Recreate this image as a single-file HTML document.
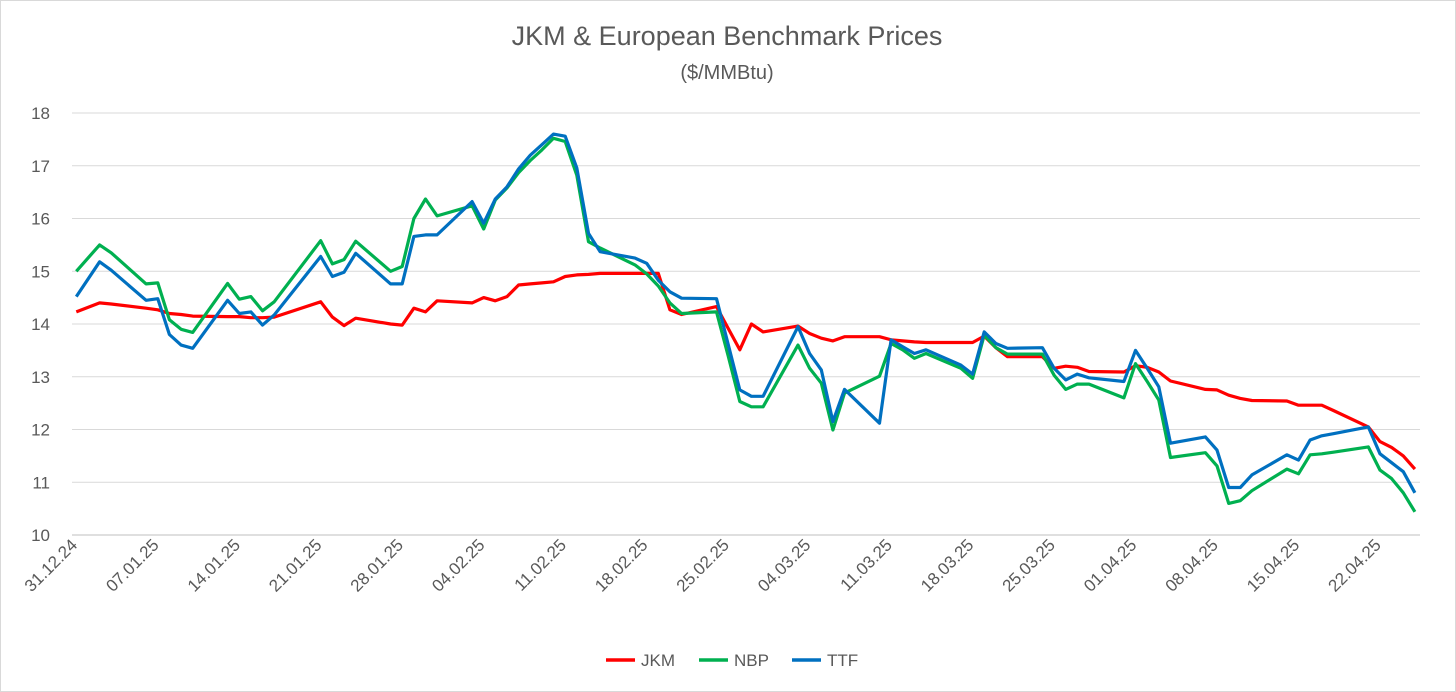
<!DOCTYPE html>
<html><head><meta charset="utf-8"><style>
html,body{margin:0;padding:0;background:#fff;}
svg{display:block;font-family:"Liberation Sans",sans-serif;}
</style></head><body>
<svg id="chart" width="1456" height="692">
<rect x="0.5" y="0.5" width="1455" height="691" fill="#fff" stroke="#d9d9d9"/>
<text x="727" y="45" text-anchor="middle" font-size="27" fill="#595959">JKM &amp; European Benchmark Prices</text>
<text x="727" y="79" text-anchor="middle" font-size="20" fill="#595959">($/MMBtu)</text>
<g id="grid"></g><g id="ylabels"></g><g id="xlabels"></g><g id="series"></g>
<g>
<line x1="606" y1="660" x2="635" y2="660" stroke="#ff0000" stroke-width="3.5"/>
<text x="641" y="666" font-size="17" fill="#595959">JKM</text>
<line x1="699" y1="660" x2="728" y2="660" stroke="#00b050" stroke-width="3.5"/>
<text x="734" y="666" font-size="17" fill="#595959">NBP</text>
<line x1="792" y1="660" x2="821" y2="660" stroke="#0070c0" stroke-width="3.5"/>
<text x="827" y="666" font-size="17" fill="#595959">TTF</text>
</g>
</svg>
<script>
const days=[0,2,3,6,7,8,9,10,13,14,15,16,17,21,22,23,24,27,28,29,30,31,34,35,36,37,38,39,40,41,42,43,44,45,48,49,50,51,52,55,56,57,58,59,62,63,64,65,66,69,70,71,72,73,76,77,78,79,80,83,84,85,86,87,90,91,92,93,94,97,98,99,100,101,104,105,106,107,108,111,112,113,114,115];
const jkm=[14.23,14.4,14.38,14.3,14.27,14.2,14.18,14.15,14.14,14.14,14.12,14.12,14.13,14.42,14.13,13.97,14.11,14.0,13.98,14.3,14.23,14.44,14.40,14.5,14.44,14.52,14.74,14.76,14.78,14.8,14.9,14.93,14.94,14.96,14.96,14.96,14.96,14.27,14.18,14.33,13.92,13.51,14.0,13.85,13.96,13.82,13.73,13.68,13.76,13.76,13.70,13.68,13.66,13.65,13.65,13.65,13.77,13.55,13.38,13.38,13.16,13.2,13.18,13.1,13.09,13.21,13.18,13.09,12.92,12.76,12.75,12.65,12.59,12.55,12.54,12.46,12.46,12.46,12.36,12.05,11.77,11.66,11.5,11.25];
const nbp=[15.0,15.5,15.35,14.76,14.78,14.08,13.9,13.84,14.77,14.47,14.52,14.25,14.42,15.58,15.14,15.22,15.57,15.0,15.09,16.0,16.37,16.05,16.24,15.8,16.35,16.58,16.87,17.1,17.3,17.52,17.46,16.82,15.56,15.44,15.12,14.95,14.72,14.4,14.2,14.23,13.4,12.53,12.43,12.43,13.6,13.16,12.88,11.99,12.69,13.01,13.63,13.51,13.35,13.44,13.16,12.97,13.79,13.55,13.43,13.43,13.03,12.76,12.86,12.86,12.6,13.25,12.91,12.56,11.47,11.56,11.31,10.6,10.65,10.84,11.25,11.16,11.52,11.54,11.57,11.67,11.23,11.07,10.8,10.44];
const ttf=[14.52,15.18,15.02,14.45,14.48,13.8,13.6,13.54,14.45,14.2,14.23,13.98,14.17,15.28,14.9,14.98,15.34,14.76,14.76,15.66,15.69,15.69,16.32,15.91,16.37,16.6,16.94,17.2,17.4,17.6,17.56,16.96,15.72,15.37,15.25,15.15,14.83,14.61,14.49,14.48,13.62,12.75,12.63,12.63,13.95,13.44,13.13,12.15,12.76,12.12,13.70,13.57,13.44,13.51,13.22,13.05,13.85,13.63,13.54,13.55,13.16,12.94,13.05,12.98,12.91,13.5,13.16,12.81,11.74,11.86,11.61,10.9,10.9,11.14,11.52,11.42,11.8,11.88,11.92,12.05,11.54,11.37,11.2,10.8];
const yTicks=[10,11,12,13,14,15,16,17,18];
const xTickDays=[0,7,14,21,28,35,42,49,56,63,70,77,84,91,98,105,112];
const xTickLabels=["31.12.24","07.01.25","14.01.25","21.01.25","28.01.25","04.02.25","11.02.25","18.02.25","25.02.25","04.03.25","11.03.25","18.03.25","25.03.25","01.04.25","08.04.25","15.04.25","22.04.25"];
const NS="http://www.w3.org/2000/svg";
function xs(d){return 76.3+11.64*d;}
function ys(v){return 535-(v-10)*52.75;}
const grid=document.getElementById('grid'),yl=document.getElementById('ylabels'),xl=document.getElementById('xlabels'),ser=document.getElementById('series');
yTicks.forEach(t=>{
  const l=document.createElementNS(NS,'line');
  l.setAttribute('x1',72);l.setAttribute('x2',1420);l.setAttribute('y1',ys(t));l.setAttribute('y2',ys(t));
  l.setAttribute('stroke',t===10?'#bfbfbf':'#d9d9d9');l.setAttribute('stroke-width',1);
  
  
  grid.appendChild(l);
  const tx=document.createElementNS(NS,'text');
  tx.setAttribute('x',50);tx.setAttribute('y',ys(t)+6);tx.setAttribute('text-anchor','end');
  tx.setAttribute('font-size',17);tx.setAttribute('fill','#595959');tx.textContent=t;
  
  
  yl.appendChild(tx);
});
xTickDays.forEach((d,i)=>{
  const x=xs(d)+2,y=546;
  const tx=document.createElementNS(NS,'text');
  tx.setAttribute('x',x);tx.setAttribute('y',y);tx.setAttribute('text-anchor','end');
  tx.setAttribute('font-size',17);tx.setAttribute('fill','#595959');
  tx.setAttribute('transform','rotate(-45 '+x+' '+y+')');
  tx.textContent=xTickLabels[i];
  
  
  xl.appendChild(tx);
});
function drawLine(vals,color,name){
  const p=document.createElementNS(NS,'polyline');
  p.setAttribute('points',days.map((d,i)=>xs(d).toFixed(1)+','+ys(vals[i]).toFixed(1)).join(' '));
  p.setAttribute('fill','none');p.setAttribute('stroke',color);p.setAttribute('stroke-width',3.2);
  p.setAttribute('stroke-linejoin','round');
  
  
  ser.appendChild(p);
}
drawLine(jkm,'#ff0000','jkm-line');
drawLine(nbp,'#00b050','nbp-line');
drawLine(ttf,'#0070c0','ttf-line');
</script>
</body></html>
